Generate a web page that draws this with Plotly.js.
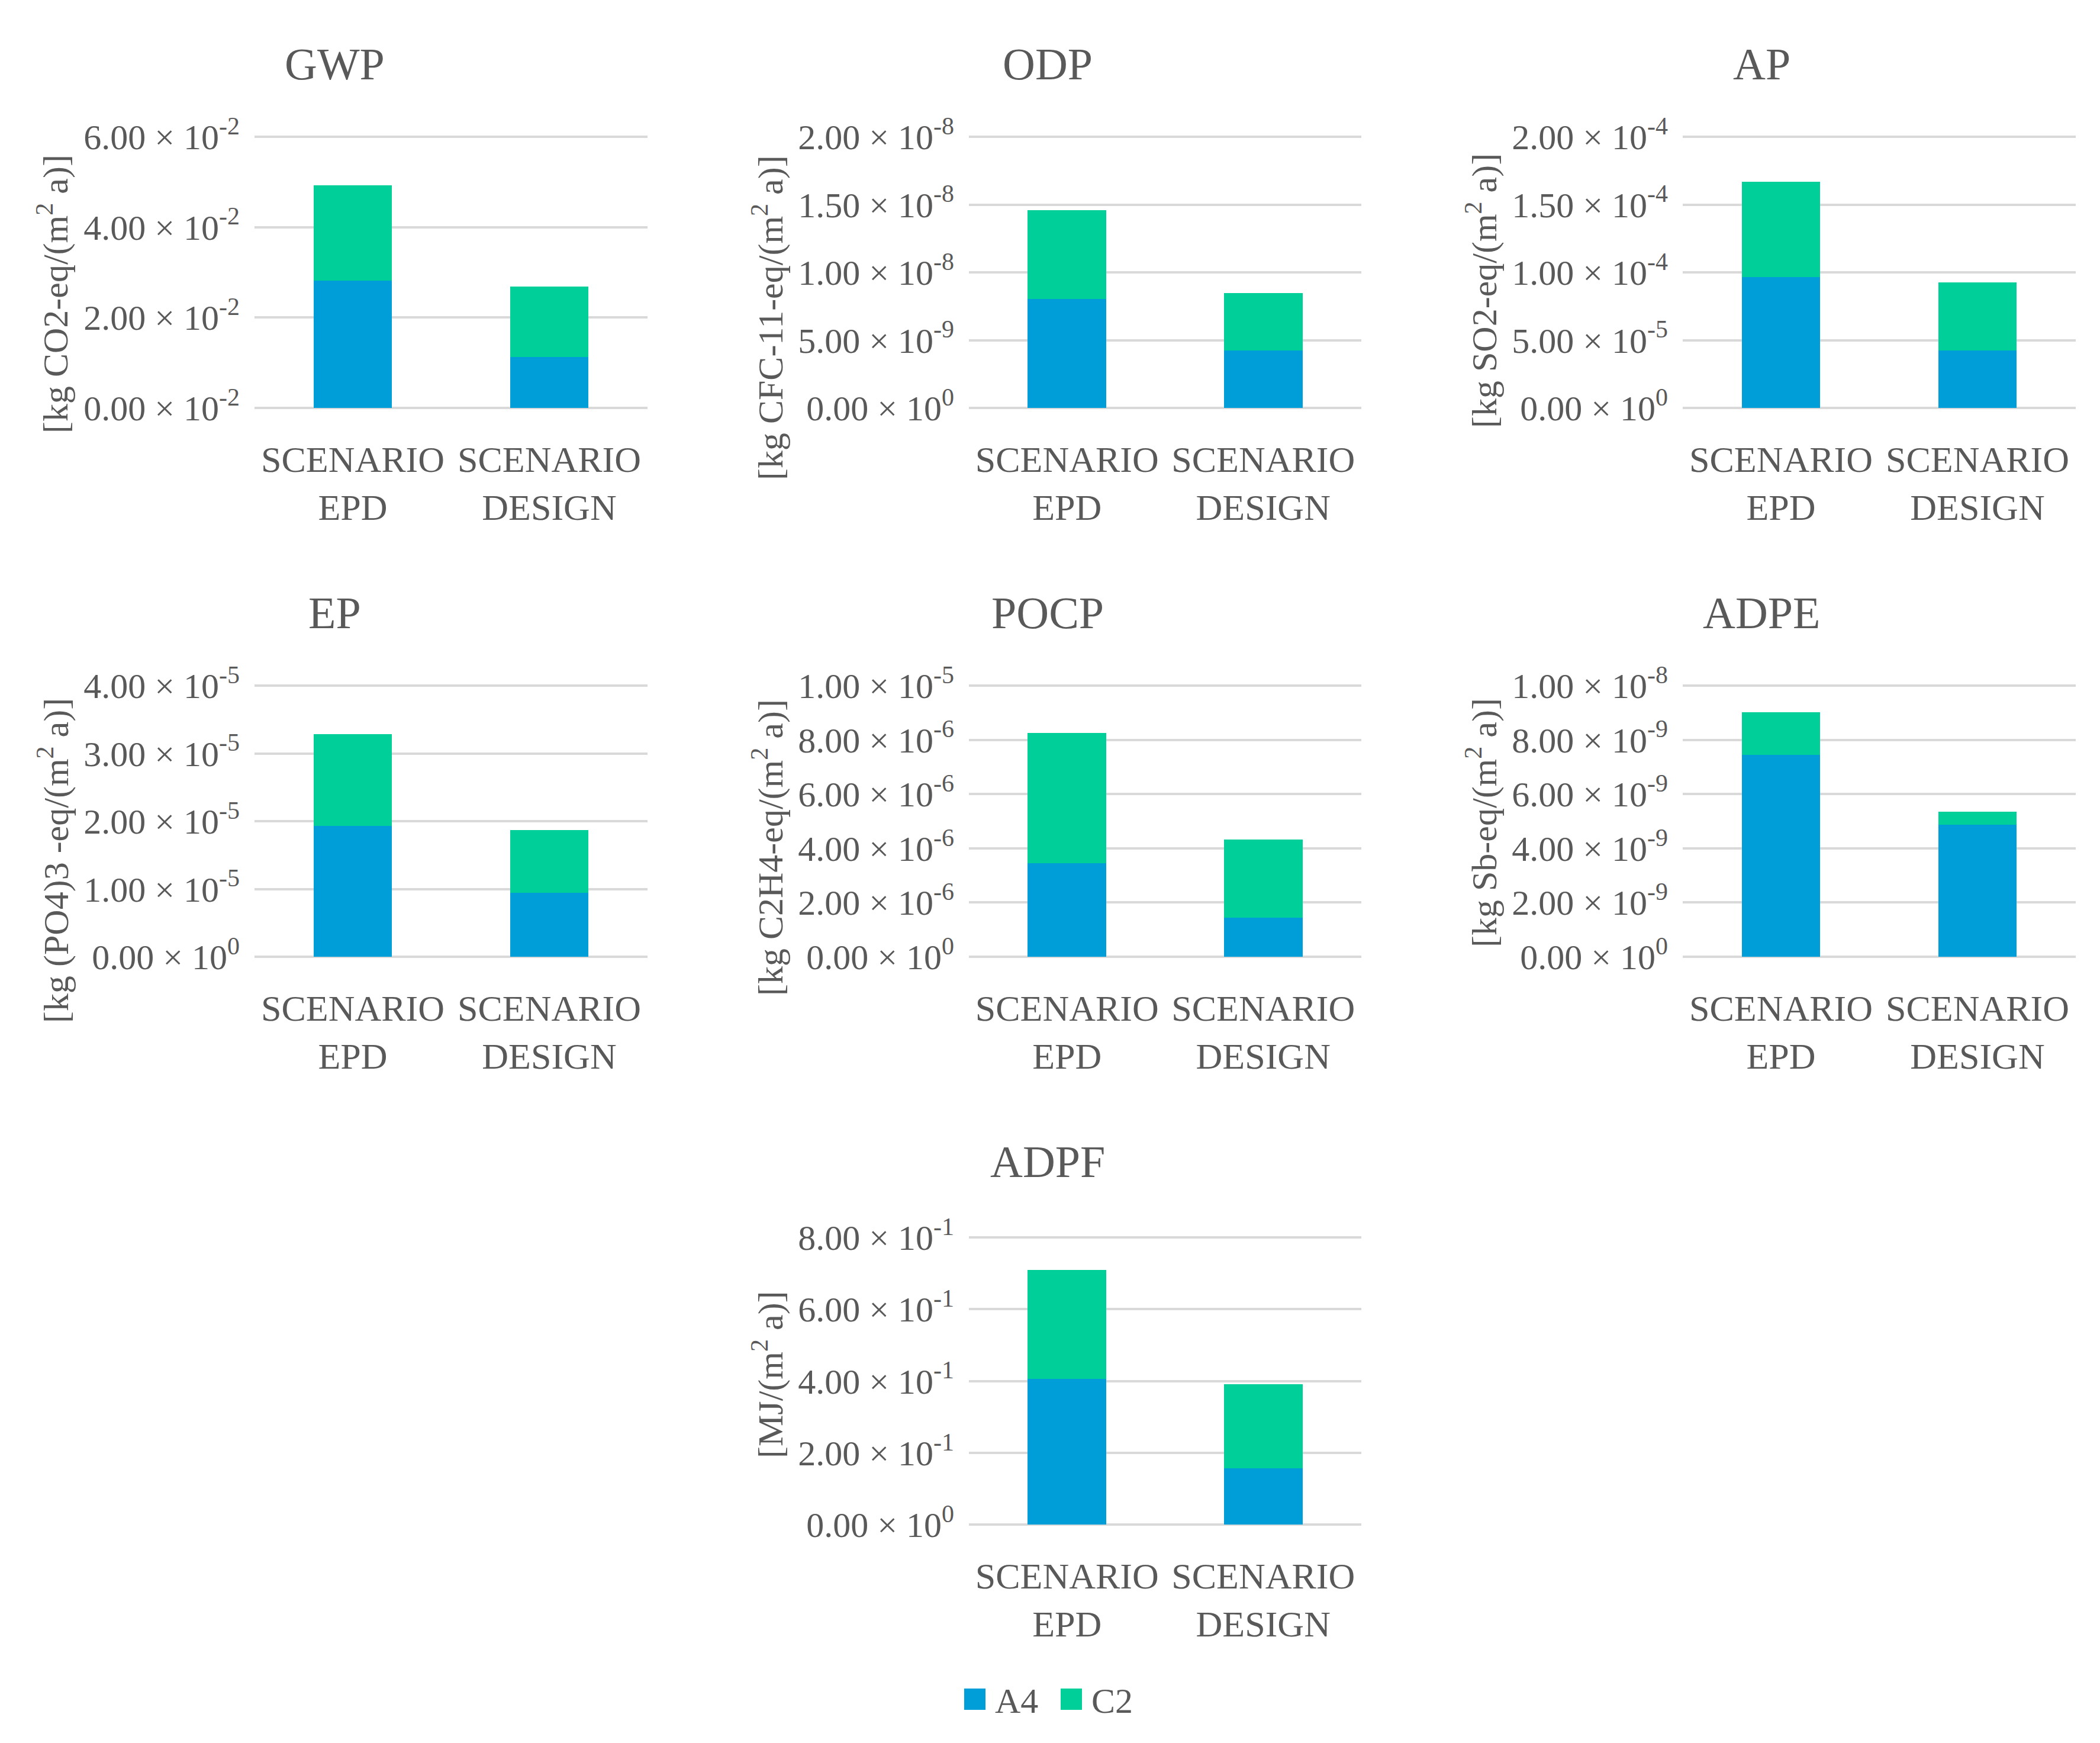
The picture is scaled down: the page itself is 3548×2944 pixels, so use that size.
<!DOCTYPE html>
<html><head><meta charset="utf-8">
<script src="https://cdn.plot.ly/plotly-3.0.1.min.js"></script>
<style>html,body{margin:0;padding:0;background:#fff}</style>
</head><body><div id="chart" style="width:3548px;height:2944px"></div>
<script>
// ---- data ----
const scenarios = ['SCENARIO<br>EPD', 'SCENARIO<br>DESIGN'];
const seriesNames = ['A4', 'C2'];

const panelNames = ['GWP', 'ODP', 'AP', 'EP', 'POCP', 'ADPE', 'ADPF'];
const unitLabels = [
  '[kg CO2-eq/(m<sup>2</sup> a)]',
  '[kg CFC-11-eq/(m<sup>2</sup> a)]',
  '[kg SO2-eq/(m<sup>2</sup> a)]',
  '[kg (PO4)3 -eq/(m<sup>2</sup> a)]',
  '[kg C2H4-eq/(m<sup>2</sup> a)]',
  '[kg Sb-eq/(m<sup>2</sup> a)]',
  '[MJ/(m<sup>2</sup> a)]'
];

const gwpA4 = [0.0282, 0.0113];
const gwpC2 = [0.0211, 0.0156];
const odpA4 = [8.05e-9, 4.22e-9];
const odpC2 = [6.52e-9, 4.24e-9];
const apA4 = [9.65e-5, 4.22e-5];
const apC2 = [7.01e-5, 5.04e-5];
const epA4 = [1.93e-5, 0.94e-5];
const epC2 = [1.35e-5, 0.93e-5];
const pocpA4 = [3.45e-6, 1.44e-6];
const pocpC2 = [4.80e-6, 2.89e-6];
const adpeA4 = [7.44e-9, 4.88e-9];
const adpeC2 = [1.58e-9, 0.48e-9];
const adpfA4 = [0.406, 0.157];
const adpfC2 = [0.303, 0.234];

const gwpTicks = [0, 0.02, 0.04, 0.06];
const gwpTickText = ['0.00 × 10<sup>-2</sup>', '2.00 × 10<sup>-2</sup>', '4.00 × 10<sup>-2</sup>', '6.00 × 10<sup>-2</sup>'];
const odpTicks = [0, 5e-9, 1e-8, 1.5e-8, 2e-8];
const odpTickText = ['0.00 × 10<sup>0</sup>', '5.00 × 10<sup>-9</sup>', '1.00 × 10<sup>-8</sup>', '1.50 × 10<sup>-8</sup>', '2.00 × 10<sup>-8</sup>'];
const apTicks = [0, 5e-5, 1e-4, 1.5e-4, 2e-4];
const apTickText = ['0.00 × 10<sup>0</sup>', '5.00 × 10<sup>-5</sup>', '1.00 × 10<sup>-4</sup>', '1.50 × 10<sup>-4</sup>', '2.00 × 10<sup>-4</sup>'];
const epTicks = [0, 1e-5, 2e-5, 3e-5, 4e-5];
const epTickText = ['0.00 × 10<sup>0</sup>', '1.00 × 10<sup>-5</sup>', '2.00 × 10<sup>-5</sup>', '3.00 × 10<sup>-5</sup>', '4.00 × 10<sup>-5</sup>'];
const pocpTicks = [0, 2e-6, 4e-6, 6e-6, 8e-6, 1e-5];
const pocpTickText = ['0.00 × 10<sup>0</sup>', '2.00 × 10<sup>-6</sup>', '4.00 × 10<sup>-6</sup>', '6.00 × 10<sup>-6</sup>', '8.00 × 10<sup>-6</sup>', '1.00 × 10<sup>-5</sup>'];
const adpeTicks = [0, 2e-9, 4e-9, 6e-9, 8e-9, 1e-8];
const adpeTickText = ['0.00 × 10<sup>0</sup>', '2.00 × 10<sup>-9</sup>', '4.00 × 10<sup>-9</sup>', '6.00 × 10<sup>-9</sup>', '8.00 × 10<sup>-9</sup>', '1.00 × 10<sup>-8</sup>'];
const adpfTicks = [0, 0.2, 0.4, 0.6, 0.8];
const adpfTickText = ['0.00 × 10<sup>0</sup>', '2.00 × 10<sup>-1</sup>', '4.00 × 10<sup>-1</sup>', '6.00 × 10<sup>-1</sup>', '8.00 × 10<sup>-1</sup>'];

// ---- build ----
const a4Values = [gwpA4, odpA4, apA4, epA4, pocpA4, adpeA4, adpfA4];
const c2Values = [gwpC2, odpC2, apC2, epC2, pocpC2, adpeC2, adpfC2];
const tickVals = [gwpTicks, odpTicks, apTicks, epTicks, pocpTicks, adpeTicks, adpfTicks];
const tickTexts = [gwpTickText, odpTickText, apTickText, epTickText, pocpTickText, adpeTickText, adpfTickText];

const W = 3548, H = 2944;
const colX = [[430, 1094], [1637, 2300], [2843, 3507]];
const rowY = [[231, 689], [1158, 1616], [2090, 2575]];   // pixel rows of top / zero gridlines
const titleY = [108, 1035, 1962];
const titleX = [565, 1770, 2976];
const grid = [[0,0],[0,1],[0,2],[1,0],[1,1],[1,2],[2,1]]; // [row, col]
const unitY = [497, 537, 491, 1454, 1432, 1390, 2322];    // centre of rotated unit labels
const unitOffset = 340;                                    // plot-left minus unit-label centre

const colorA4 = '#009ed8';
const colorC2 = '#00cf99';
const textColor = '#595959';
const FONT = 'Liberation Serif, Times New Roman, serif';
const PAD = 0.01;

const data = [];
const layout = {
  width: W, height: H,
  margin: {l: 0, r: 0, t: 0, b: 0},
  paper_bgcolor: '#ffffff', plot_bgcolor: '#ffffff',
  barmode: 'stack', bargap: 0.6,
  font: {family: FONT, color: textColor, size: 58},
  showlegend: true,
  legend: {orientation: 'h', x: 1790 / W, xanchor: 'center', y: 1 - 2870 / H, yanchor: 'middle',
           font: {family: FONT, size: 60, color: textColor}, itemwidth: 30,
           entrywidth: 118, entrywidthmode: 'pixels'},
  annotations: []
};

panelNames.forEach((name, i) => {
  const [r, c] = grid[i];
  const xa = 'x' + (i === 0 ? '' : i + 1);
  const ya = 'y' + (i === 0 ? '' : i + 1);
  data.push({type: 'bar', name: seriesNames[0], x: scenarios, y: a4Values[i], xaxis: xa, yaxis: ya,
             marker: {color: colorA4}, legendgroup: 'A4', showlegend: i === 0, hoverinfo: 'y'});
  data.push({type: 'bar', name: seriesNames[1], x: scenarios, y: c2Values[i], xaxis: xa, yaxis: ya,
             marker: {color: colorC2}, legendgroup: 'C2', showlegend: i === 0, hoverinfo: 'y'});
  const xKey = 'xaxis' + (i === 0 ? '' : i + 1);
  const yKey = 'yaxis' + (i === 0 ? '' : i + 1);
  const h = rowY[r][1] - rowY[r][0];
  const padPx = h * PAD;
  layout[xKey] = {
    domain: [colX[c][0] / W, colX[c][1] / W], anchor: ya,
    type: 'category', showgrid: false, zeroline: false, showline: false,
    ticks: 'outside', ticklen: 28, tickwidth: 1, tickcolor: 'rgba(0,0,0,0)',
    tickfont: {family: FONT, size: 62, color: textColor}, automargin: false
  };
  const maxT = tickVals[i][tickVals[i].length - 1];
  layout[yKey] = {
    domain: [1 - (rowY[r][1] + padPx) / H, 1 - (rowY[r][0] - padPx) / H], anchor: xa,
    range: [-PAD * maxT, (1 + PAD) * maxT], tickmode: 'array', tickvals: tickVals[i], ticktext: tickTexts[i],
    showgrid: true, gridcolor: '#d9d9d9', gridwidth: 4, zeroline: false, showline: false, ticks: '',
    tickfont: {family: FONT, size: 60, color: textColor}, ticklabelstandoff: 24, automargin: false
  };
  layout.annotations.push({
    text: name, xref: 'paper', yref: 'paper', x: titleX[c] / W, y: 1 - titleY[r] / H,
    xanchor: 'center', yanchor: 'middle', showarrow: false,
    font: {family: FONT, size: 76, color: textColor}
  });
  layout.annotations.push({
    text: unitLabels[i], xref: 'paper', yref: 'paper',
    x: (colX[c][0] - unitOffset) / W, y: 1 - unitY[i] / H,
    xanchor: 'center', yanchor: 'middle', textangle: -90, showarrow: false,
    font: {family: FONT, size: 60, color: textColor}
  });
});

Plotly.newPlot('chart', data, layout, {displayModeBar: false, staticPlot: true}).then(gd => {
  // enlarge the legend colour squares to the reference size and space the text after them
  gd.querySelectorAll('.legend .legendpoints path').forEach(p => {
    const t = p.getAttribute('transform') || '';
    p.setAttribute('transform', t + ' scale(3)');
  });
  gd.querySelectorAll('.legend text.legendtext').forEach(t => {
    const x = parseFloat(t.getAttribute('x') || '0');
    t.setAttribute('x', x + 14);
  });
});
</script>
</body></html>
